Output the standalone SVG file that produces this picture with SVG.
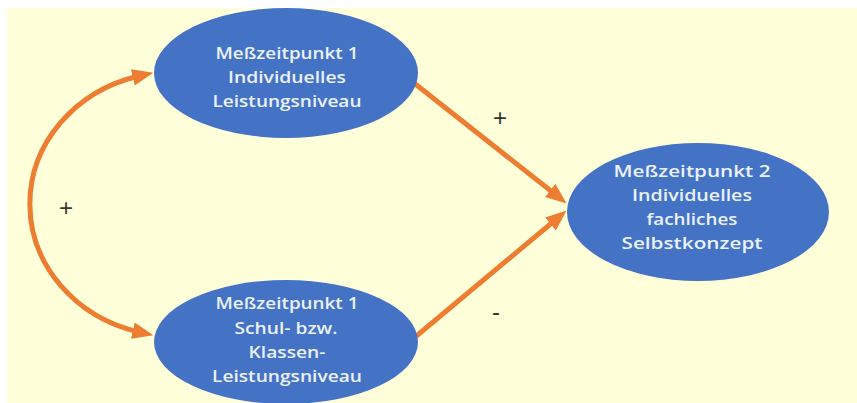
<svg xmlns="http://www.w3.org/2000/svg" width="857" height="403" viewBox="0 0 857 403">
  <style>
    .node { fill: #4472C4; }
    .label { fill: #EAF1FB; font-family: "Open Sans", "Liberation Sans", sans-serif; font-size: 16.5px; font-weight: 600; text-anchor: middle; }
    .edge { fill: none; stroke: #ED7D31; stroke-width: 5; }
    .sign { fill: #333333; font-family: "Liberation Sans", "DejaVu Sans", sans-serif; font-size: 24px; text-anchor: middle; }
  </style>
  <defs>
    <marker id="arrow" viewBox="0 0 20 16" markerWidth="21" markerHeight="17" refX="6" refY="8" markerUnits="userSpaceOnUse" orient="auto-start-reverse">
      <path d="M0,0 L20,8 L0,16 z" fill="#ED7D31"/>
    </marker>
  </defs>

  <rect x="0" y="0" width="857" height="403" fill="#ffffff"/>
  <rect x="7" y="8" width="850" height="395" fill="#FFFFDA"/>

  <g id="connectors">
    <path class="edge" d="M139,332 A145,132.1 0 0 1 139,76" marker-start="url(#arrow)" marker-end="url(#arrow)"/>
    <path class="edge" d="M414,83 L555.1,194.3" marker-end="url(#arrow)"/>
    <path class="edge" d="M414,338 L555.3,220" marker-end="url(#arrow)"/>
    <text class="sign" x="66" y="216">+</text>
    <text class="sign" x="500" y="126">+</text>
    <text class="sign" x="496" y="320">-</text>
  </g>

  <g id="node-t1-individual">
    <ellipse class="node" cx="286" cy="73" rx="132" ry="65"/>
    <text class="label" x="287" y="59" textLength="143" lengthAdjust="spacingAndGlyphs">Meßzeitpunkt 1</text>
    <text class="label" x="287" y="83" textLength="118" lengthAdjust="spacingAndGlyphs">Individuelles</text>
    <text class="label" x="287" y="107" textLength="149" lengthAdjust="spacingAndGlyphs">Leistungsniveau</text>
  </g>

  <g id="node-t1-class">
    <ellipse class="node" cx="286" cy="342" rx="132" ry="62"/>
    <text class="label" x="287" y="309" textLength="143" lengthAdjust="spacingAndGlyphs">Meßzeitpunkt 1</text>
    <text class="label" x="286" y="334" textLength="103" lengthAdjust="spacingAndGlyphs">Schul- bzw.</text>
    <text class="label" x="287" y="358" textLength="77" lengthAdjust="spacingAndGlyphs">Klassen-</text>
    <text class="label" x="287" y="382" textLength="150" lengthAdjust="spacingAndGlyphs">Leistungsniveau</text>
  </g>

  <g id="node-t2-selfconcept">
    <ellipse class="node" cx="698" cy="212" rx="131" ry="69"/>
    <text class="label" x="692" y="177" textLength="157" lengthAdjust="spacingAndGlyphs">Meßzeitpunkt 2</text>
    <text class="label" x="692" y="201" textLength="120" lengthAdjust="spacingAndGlyphs">Individuelles</text>
    <text class="label" x="692" y="225" textLength="91" lengthAdjust="spacingAndGlyphs">fachliches</text>
    <text class="label" x="692" y="249" textLength="141" lengthAdjust="spacingAndGlyphs">Selbstkonzept</text>
  </g>
</svg>
